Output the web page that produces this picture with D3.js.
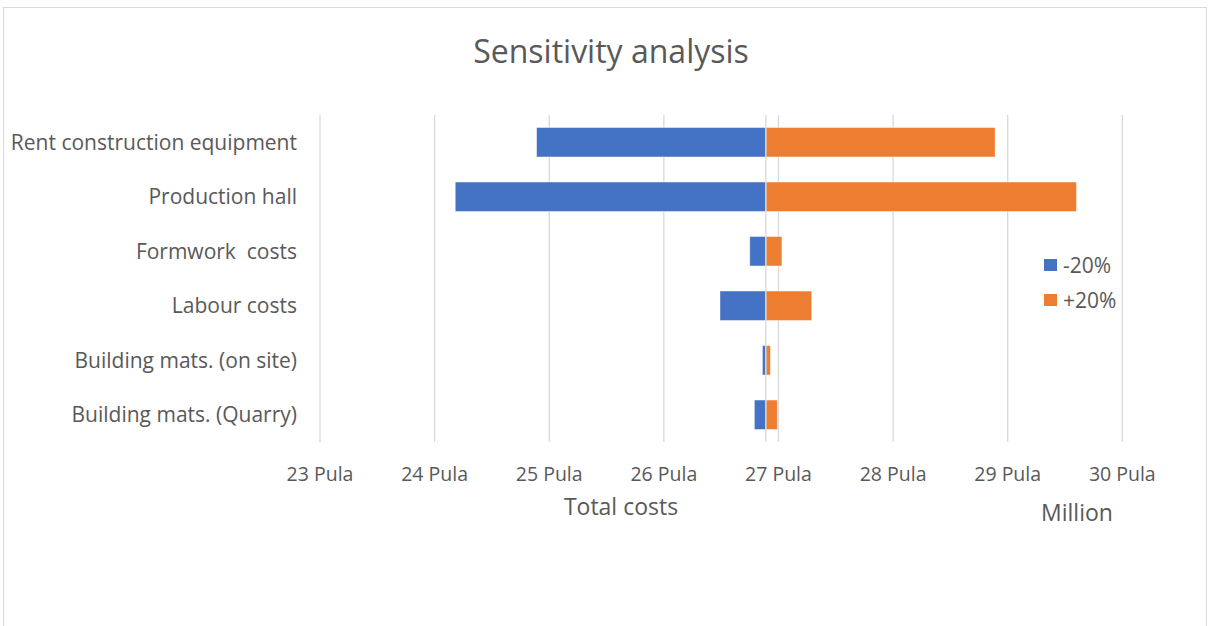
<!DOCTYPE html>
<html>
<head>
<meta charset="utf-8">
<script src="https://cdn.jsdelivr.net/npm/d3@7"></script>
<style>
  body { margin: 0; background: #fff; }
  text { font-family: "Open Sans", "Noto Sans", sans-serif; fill: #595959; white-space: pre; }
</style>
</head>
<body>
<div id="chart"></div>
<script>
// Data (millions of Pula)
var categories = ["Rent construction equipment", "Production hall", "Formwork  costs",
    "Labour costs", "Building mats. (on site)", "Building mats. (Quarry)"];
var baseValue = 26.89;
var minus20 = [24.89, 24.18, 26.75, 26.49, 26.86, 26.79];
var plus20 = [28.89, 29.60, 27.03, 27.29, 26.93, 26.99];
var tickValues = [23, 24, 25, 26, 27, 28, 29, 30];
var seriesNames = ["-20%", "+20%"];
var colors = ["#4472C4", "#ED7D31"];

var svgWidth = 1212;
var svgHeight = 626;
var plot = { left: 320, right: 1122.3, top: 115, bottom: 442 };

var svg = d3.select("#chart")
    .append("svg")
    .attr("width", svgWidth)
    .attr("height", svgHeight);

// chart border
svg.append("rect")
    .attr("x", 3.5).attr("y", 7.5)
    .attr("width", 1203).attr("height", 640)
    .attr("fill", "#fff")
    .attr("stroke", "#d9d9d9");

var x = d3.scaleLinear().domain([23, 30]).range([plot.left, plot.right]);
var y = d3.scaleBand().domain(categories).range([plot.top, plot.bottom]).paddingInner(0.46).paddingOuter(0.23);

// gridlines
svg.append("g")
    .selectAll("line")
    .data(tickValues)
    .enter().append("line")
    .attr("x1", function (d) { return x(d); })
    .attr("x2", function (d) { return x(d); })
    .attr("y1", plot.top)
    .attr("y2", plot.bottom)
    .attr("stroke", "#d9d9d9")
    .attr("stroke-width", 1.3);

// tick labels
svg.append("g")
    .selectAll("text")
    .data(tickValues)
    .enter().append("text")
    .attr("x", function (d) { return x(d); })
    .attr("y", 481)
    .attr("text-anchor", "middle")
    .attr("font-size", 19.5)
    .text(function (d) { return d + " Pula"; });

// bars
var rows = categories.map(function (c, i) {
    return { cat: c, vals: [minus20[i], plus20[i]] };
});
rows.forEach(function (r) {
    r.vals.forEach(function (v, k) {
        svg.append("rect")
            .attr("x", x(Math.min(v, baseValue)))
            .attr("y", y(r.cat))
            .attr("width", Math.abs(x(v) - x(baseValue)))
            .attr("height", y.bandwidth())
            .attr("fill", colors[k])
            .attr("stroke", "#fff")
            .attr("stroke-opacity", 0.5)
            .attr("stroke-width", 0.8);
    });
});

// vertical axis at base value
svg.append("line")
    .attr("x1", x(baseValue)).attr("x2", x(baseValue))
    .attr("y1", plot.top).attr("y2", plot.bottom)
    .attr("stroke", "#d9d9d9")
    .attr("stroke-width", 1.3);

// category labels
svg.append("g")
    .selectAll("text")
    .data(categories)
    .enter().append("text")
    .attr("x", 297)
    .attr("y", function (d) { return y(d) + y.bandwidth() / 2; })
    .attr("dy", "0.36em")
    .attr("text-anchor", "end")
    .attr("font-size", 21)
    .text(function (d) { return d; });

// title
svg.append("text")
    .attr("x", 611)
    .attr("y", 63)
    .attr("text-anchor", "middle")
    .attr("font-size", 32)
    .text("Sensitivity analysis");

// axis titles
svg.append("text")
    .attr("x", 621)
    .attr("y", 515)
    .attr("text-anchor", "middle")
    .attr("font-size", 23)
    .text("Total costs");

svg.append("text")
    .attr("x", 1077)
    .attr("y", 521)
    .attr("text-anchor", "middle")
    .attr("font-size", 23)
    .text("Million");

// legend
var legend = svg.append("g");
seriesNames.forEach(function (s, i) {
    legend.append("rect")
        .attr("x", 1044)
        .attr("y", 259 + i * 35)
        .attr("width", 13)
        .attr("height", 12)
        .attr("fill", colors[i]);
    legend.append("text")
        .attr("x", 1063)
        .attr("y", 265 + i * 35)
        .attr("dy", "0.36em")
        .attr("font-size", 21)
        .text(s);
});
</script>
</body>
</html>
